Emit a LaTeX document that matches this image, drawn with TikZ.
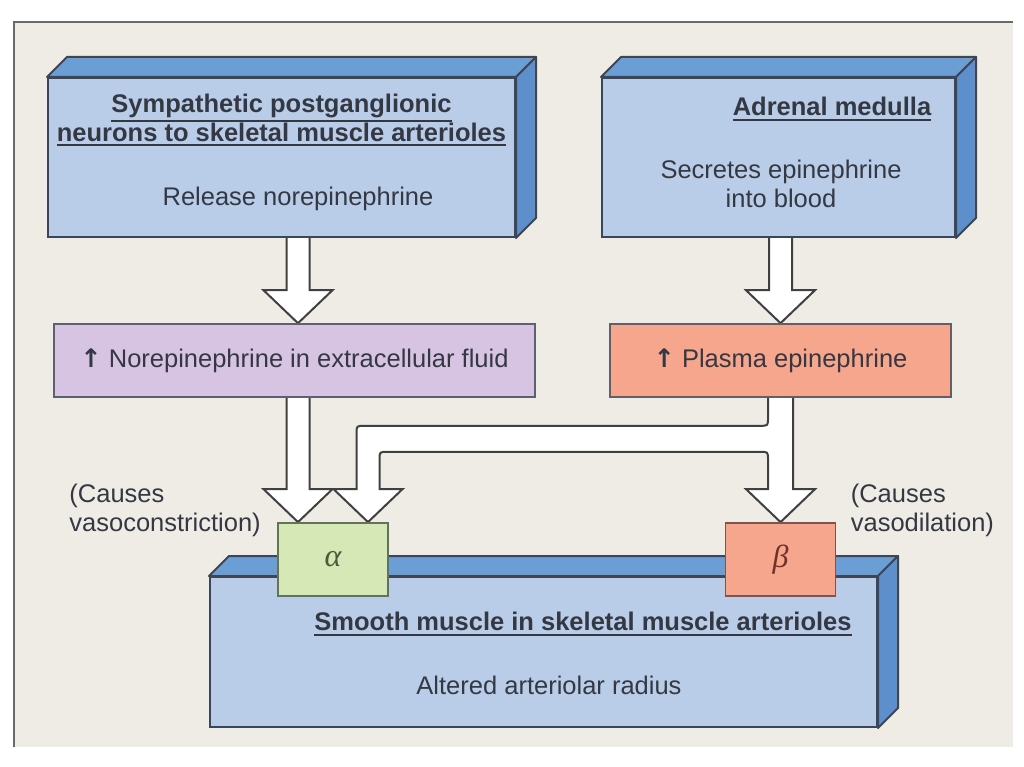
\documentclass[tikz,border=0pt]{standalone}
\usepackage{fontspec}
\setmainfont{Liberation Sans}
\newfontfamily\symfont{DejaVu Sans}
\newfontfamily\greekfont{Liberation Serif}
\usepackage{tikz}
\usetikzlibrary{calc}
\usetikzlibrary{positioning}
\usetikzlibrary{backgrounds}

\definecolor{panelbg}{RGB}{239,236,229}
\definecolor{panelline}{RGB}{105,105,105}
\definecolor{slabfront}{RGB}{185,205,233}
\definecolor{slabtop}{RGB}{108,158,214}
\definecolor{slabside}{RGB}{92,143,204}
\definecolor{edgegray}{RGB}{62,70,84}
\definecolor{lilac}{RGB}{215,196,226}
\definecolor{salmon}{RGB}{246,166,140}
\definecolor{palegreen}{RGB}{213,232,181}
\definecolor{inkgray}{RGB}{52,56,66}
\definecolor{alphaink}{RGB}{70,92,58}
\definecolor{betaink}{RGB}{112,50,40}

\newcommand\bodysize{\fontsize{25.5}{29}\selectfont}
\newcommand\greeksize{\fontsize{32}{32}\selectfont}
% thick underline below the descenders
\newcommand\headline[1]{\setbox0\hbox{#1}\leavevmode\rlap{\vrule width\wd0 height\dimexpr-\dp0-2.5pt\relax depth\dimexpr\dp0+4.5pt\relax}\box0}

% top and right faces of a 3d slab
\newcommand\slabfaces[1]{%
	\filldraw[slabface, fill=slabtop] (#1.north west) -- ([shift={(20,-20)}]#1.north west) -- ([shift={(20,-20)}]#1.north east) -- (#1.north east) -- cycle;
	\filldraw[slabface, fill=slabside] (#1.north east) -- ([shift={(20,-20)}]#1.north east) -- ([shift={(20,-20)}]#1.south east) -- (#1.south east) -- cycle;
}

% hollow block arrow: #1 gives the start level, #2 the tip
\newcommand\bigarrow[2]{%
	\filldraw[fatarrow] let \p1=#1, \p2=#2 in
		(\x2-11.5pt,\y1) -- (\x2-11.5pt,\y2+33pt) -- (\x2-34.5pt,\y2+33pt) -- (\p2)
		-- (\x2+34.5pt,\y2+33pt) -- (\x2+11.5pt,\y2+33pt) -- (\x2+11.5pt,\y1);
}

\begin{document}
\begin{tikzpicture}[x=1pt, y=-1pt, font=\bodysize, text=inkgray]
	\tikzstyle{slab}=[draw=edgegray, line width=2pt, fill=slabfront, rectangle, inner sep=0pt]
	\tikzstyle{slabface}=[draw=edgegray, line width=2pt, line join=round]
	\tikzstyle{level}=[draw=edgegray!85, line width=1.6pt, rectangle, inner sep=0pt, minimum height=73pt]
	\tikzstyle{receptor}=[line width=1.8pt, rectangle, inner sep=0pt, minimum width=110pt, minimum height=73pt, font=\greeksize\greekfont\itshape]
	\tikzstyle{fatarrow}=[draw=black!75, fill=white, line width=2pt]
	\tikzstyle{title}=[font=\bodysize\bfseries, align=center]
	\tikzstyle{body}=[align=center]
	\tikzstyle{note}=[align=left]

	\useasboundingbox (0,0) rectangle (1024,767);
	\begin{scope}[on background layer]
		\fill[panelbg] (14,22) rectangle (1013,747);
		\draw[panelline, line width=2pt] (14,747) -- (14,22) -- (1013,22);
	\end{scope}

	% source boxes
	\node[slab, minimum width=467pt, minimum height=159pt] (nsym) at (281.5,157.5) {};
	\slabfaces{nsym}
	\node[slab, minimum width=353pt, minimum height=159pt] (adm) at (778.5,157.5) {};
	\slabfaces{adm}

	\node[title] (nsymtitle) at ($(nsym.north)+(0,43)$) {\headline{Sympathetic postganglionic}\\\headline{neurons to skeletal muscle arterioles}};
	\node[body] (nsymtext) at ($(nsym.north)+(16.5,122)$) {Release norepinephrine};
	\node[title] (admtitle) at ($(adm.north)+(53.5,32)$) {\headline{Adrenal medulla}};
	\node[body] (admtext) at ($(adm.north)+(2.5,107)$) {Secretes epinephrine\\into blood};

	% levels
	\node[level, fill=lilac, minimum width=481pt] (ne) at (294.5,360.5) {{\symfont\bfseries ↑} Norepinephrine in extracellular fluid};
	\node[level, fill=salmon, minimum width=341pt] (pe) at (780.5,360.5) {{\symfont\bfseries ↑} Plasma epinephrine};

	% target
	\node[slab, minimum width=667pt, minimum height=150pt] (sm) at (543.5,652) {};
	\slabfaces{sm}
	\node[title] (smtitle) at ($(sm.north)+(39.5,48)$) {\headline{Smooth muscle in skeletal muscle arterioles}};
	\node[body] (smtext) at ($(sm.north)+(5.5,109)$) {Altered arteriolar radius};

	\node[receptor, draw=alphaink!85, fill=palegreen, text=alphaink] (alpha) at (333,559.5) {α};
	\node[receptor, draw=betaink!85, fill=salmon, text=betaink] (beta) at (780.5,559.5) {β};

	\node[note] (constrict) at ($(alpha.west)+(-112,-49.5)$) {(Causes\\vasoconstriction)};
	\node[note] (dilate) at ($(beta.east)+(86,-49.5)$) {(Causes\\vasodilation)};

	% block arrows
	\begin{scope}[on background layer]
		\bigarrow{(nsym.south)}{($(ne.north)+(3.5,0)$)}
		\bigarrow{(adm.south)}{(pe.north)}
		\bigarrow{(ne.south)}{($(alpha.north)+(-35,0)$)}
		\filldraw[fatarrow] let \p1=(pe.south), \p2=(beta.north), \p3=($(alpha.north)+(35,0)$) in
			(\x2+12.5pt,\y1) -- (\x2+12.5pt,\y2+33pt) -- (\x2+34.5pt,\y2+33pt) -- (\p2)
			-- (\x2-34.5pt,\y2+33pt) -- (\x2-12.5pt,\y2+33pt) -- (\x2-12.5pt,\y1-62pt)
			.. controls (\x2-12.5pt,\y1-54pt) .. (\x2-20.5pt,\y1-54pt)
			-- (\x3+19.5pt,\y1-54pt) .. controls (\x3+11.5pt,\y1-54pt) .. (\x3+11.5pt,\y1-62pt)
			-- (\x3+11.5pt,\y3+33pt) -- (\x3+34.5pt,\y3+33pt) -- (\p3)
			-- (\x3-34.5pt,\y3+33pt) -- (\x3-11.5pt,\y3+33pt) -- (\x3-11.5pt,\y1-36pt)
			.. controls (\x3-11.5pt,\y1-28pt) .. (\x3-3.5pt,\y1-28pt)
			-- (\x2-20.5pt,\y1-28pt) .. controls (\x2-12.5pt,\y1-28pt) .. (\x2-12.5pt,\y1-20pt)
			-- (\x2-12.5pt,\y1);
	\end{scope}
\end{tikzpicture}
\end{document}
